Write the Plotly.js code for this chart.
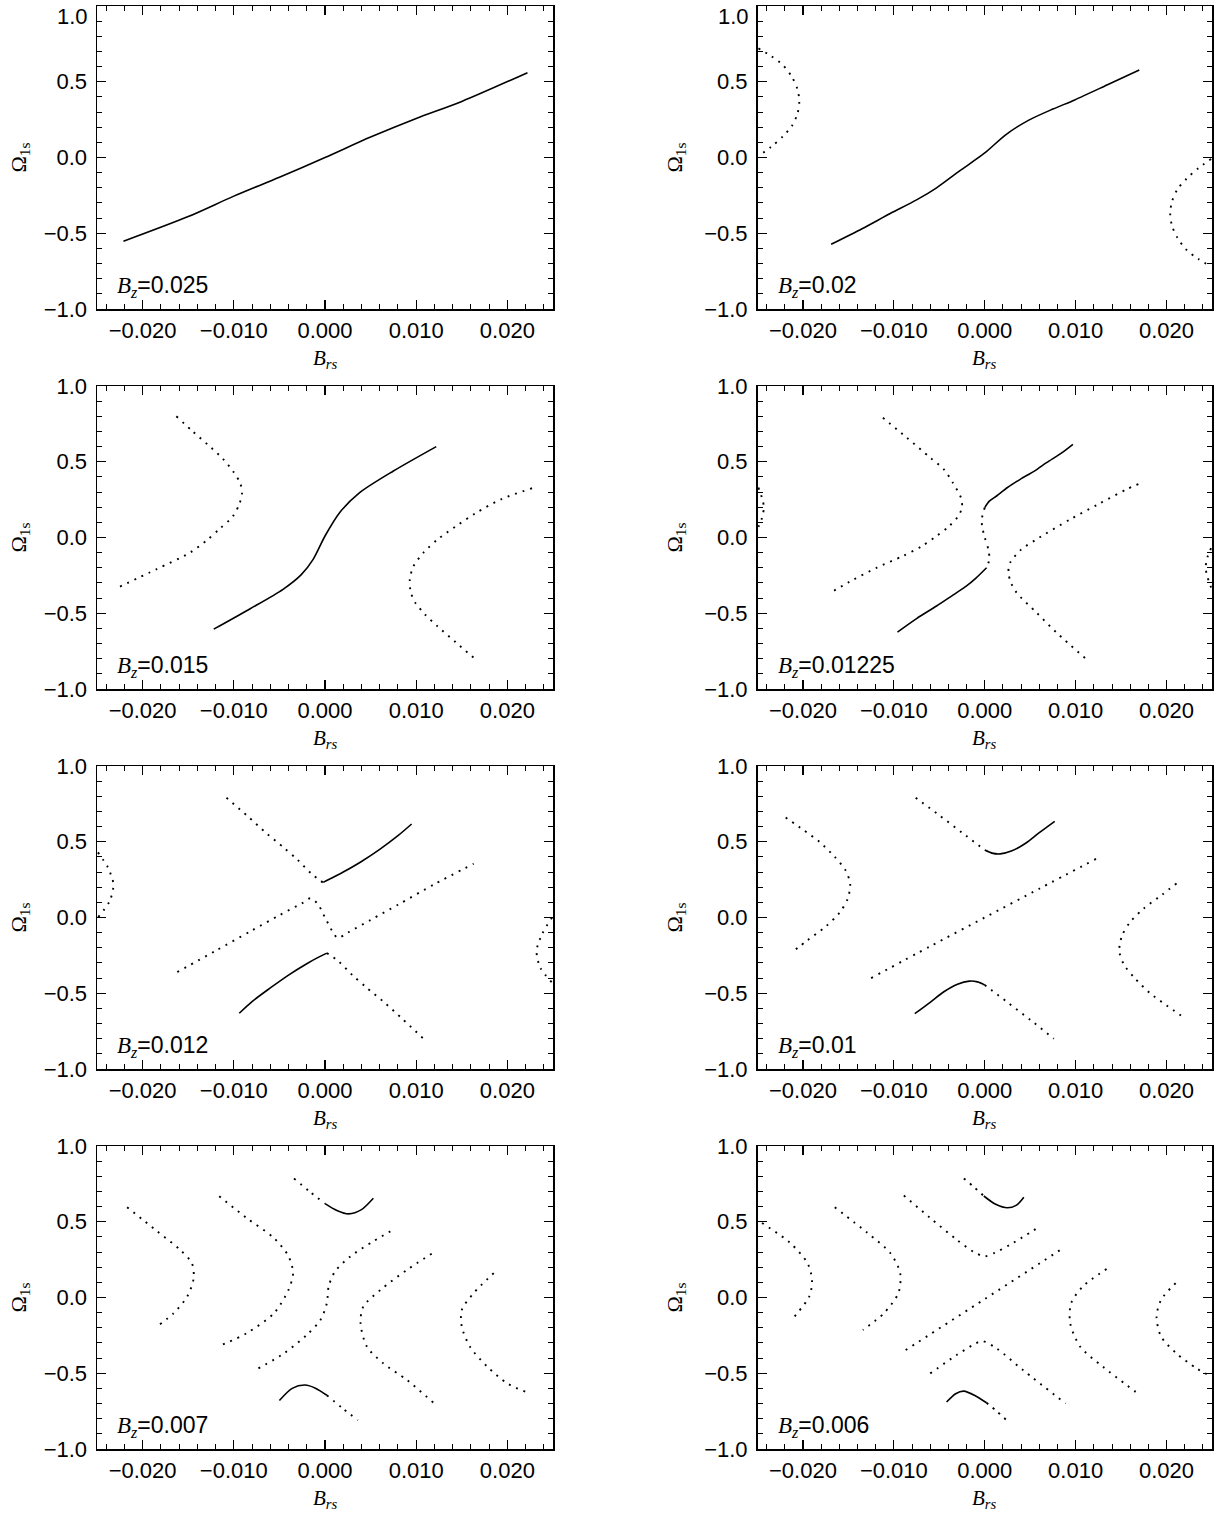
<!DOCTYPE html>
<html><head><meta charset="utf-8">
<script src="https://cdn.plot.ly/plotly-3.0.1.min.js"></script>
<style>html,body{margin:0;padding:0;background:#fff}#chart{width:1225px;height:1513px}</style>
</head><body><div id="chart"></div>
<script>
// ---------- data ----------
const bzLabels = ['0.025', '0.02', '0.015', '0.01225', '0.012', '0.01', '0.007', '0.006'];
const xTickVals = [-0.02, -0.01, 0.0, 0.01, 0.02];
const yTickVals = [-1.0, -0.5, 0.0, 0.5, 1.0];

// Panel 1: Bz = 0.025
const p1_solid_x = [-0.0221, -0.015, -0.010, -0.005, 0.0, 0.005, 0.010, 0.015, 0.0222];
const p1_solid_y = [-0.553, -0.39, -0.255, -0.13, 0.0, 0.135, 0.258, 0.37, 0.56];

// Panel 2: Bz = 0.02
const p2_solid_x = [-0.0169, -0.0135, -0.0104, -0.0075, -0.0053, -0.0028, 0.0, 0.0023, 0.0048, 0.0075, 0.0099, 0.0135, 0.0170];
const p2_solid_y = [-0.573, -0.47, -0.37, -0.28, -0.20, -0.09, 0.03, 0.15, 0.245, 0.32, 0.38, 0.48, 0.578];
const p2_dot1_x = [-0.0249, -0.0235, -0.0222, -0.0212, -0.0206, -0.0204, -0.0206, -0.0212, -0.0222, -0.0235, -0.0249];
const p2_dot1_y = [0.72, 0.67, 0.61, 0.53, 0.45, 0.37, 0.29, 0.21, 0.14, 0.07, 0.01];
const p2_dot2_x = [0.0249, 0.0235, 0.0222, 0.0212, 0.0206, 0.0204, 0.0206, 0.0212, 0.0222, 0.0235, 0.0249];
const p2_dot2_y = [-0.01, -0.07, -0.14, -0.21, -0.29, -0.37, -0.45, -0.53, -0.61, -0.67, -0.72];

// Panel 3: Bz = 0.015
const p3_solid_x = [-0.0122, -0.0082, -0.0046, -0.0026, -0.0013, 0.0, 0.0016, 0.0038, 0.0075, 0.0122];
const p3_solid_y = [-0.605, -0.47, -0.342, -0.245, -0.144, 0.01, 0.164, 0.296, 0.439, 0.600];
const p3_dot1_x = [-0.0163, -0.0145, -0.0128, -0.0112, -0.0100, -0.0093, -0.0091, -0.0094, -0.0101, -0.0115, -0.0130, -0.0148, -0.0185, -0.0227];
const p3_dot1_y = [0.80, 0.70, 0.61, 0.52, 0.43, 0.36, 0.29, 0.22, 0.14, 0.06, -0.02, -0.10, -0.21, -0.33];
const p3_dot2_x = [0.0227, 0.0193, 0.0165, 0.0144, 0.0124, 0.0108, 0.0097, 0.0093, 0.0094, 0.0099, 0.0110, 0.0123, 0.0143, 0.0165];
const p3_dot2_y = [0.325, 0.252, 0.16, 0.076, -0.01, -0.10, -0.19, -0.276, -0.36, -0.43, -0.51, -0.584, -0.69, -0.804];

// Panel 4: Bz = 0.01225
const p4_solid1_x = [0.0, 0.0005, 0.0013, 0.0025, 0.0039, 0.0055, 0.0068, 0.0085, 0.0097];
const p4_solid1_y = [0.197, 0.24, 0.274, 0.33, 0.384, 0.44, 0.494, 0.56, 0.615];
const p4_solid2_x = [-0.0096, -0.0075, -0.0053, -0.0035, -0.0020, -0.0010, 0.0002];
const p4_solid2_y = [-0.624, -0.535, -0.452, -0.38, -0.32, -0.27, -0.20];
const p4_dot1_x = [0.0, -0.0003, -0.0003, 0.0, 0.0004, 0.0005, 0.0002];
const p4_dot1_y = [0.197, 0.13, 0.076, 0.0, -0.08, -0.144, -0.20];
const p4_dot2_x = [-0.0112, -0.0086, -0.0060, -0.0045, -0.0035, -0.0026, -0.0025, -0.0029, -0.0040, -0.0053, -0.0070, -0.0090, -0.0119, -0.0145, -0.0169];
const p4_dot2_y = [0.79, 0.66, 0.527, 0.45, 0.36, 0.26, 0.20, 0.142, 0.07, 0.01, -0.06, -0.122, -0.20, -0.28, -0.362];
const p4_dot3_x = [0.0169, 0.0156, 0.0125, 0.0094, 0.0057, 0.0040, 0.0028, 0.0026, 0.0029, 0.0035, 0.0057, 0.0079, 0.0112];
const p4_dot3_y = [0.353, 0.318, 0.22, 0.12, -0.012, -0.08, -0.166, -0.232, -0.30, -0.364, -0.496, -0.628, -0.804];
const p4_dot4_x = [-0.0249, -0.0245, -0.0243, -0.0245, -0.0249];
const p4_dot4_y = [0.33, 0.26, 0.20, 0.13, 0.07];
const p4_dot5_x = [0.0249, 0.0245, 0.0243, 0.0245, 0.0249];
const p4_dot5_y = [-0.07, -0.13, -0.20, -0.26, -0.33];

// Panel 5: Bz = 0.012
const p5_solid1_x = [-0.0002, 0.0008, 0.002, 0.004, 0.006, 0.008, 0.0095];
const p5_solid1_y = [0.232, 0.262, 0.30, 0.37, 0.45, 0.54, 0.617];
const p5_solid2_x = [-0.0094, -0.008, -0.006, -0.004, -0.002, -0.0008, 0.0002];
const p5_solid2_y = [-0.632, -0.555, -0.465, -0.38, -0.305, -0.265, -0.235];
const p5_dot1_x = [-0.0108, -0.0085, -0.0064, -0.0045, -0.003, -0.0015, -0.0002];
const p5_dot1_y = [0.79, 0.67, 0.555, 0.46, 0.38, 0.29, 0.23];
const p5_dot2_x = [-0.0162, -0.012, -0.008, -0.005, -0.0025, -0.0016, -0.0008, 0.0, 0.0008, 0.0014, 0.0025, 0.005, 0.008, 0.012, 0.0163];
const p5_dot2_y = [-0.36, -0.22, -0.085, 0.015, 0.095, 0.127, 0.09, 0.0, -0.09, -0.135, -0.10, -0.016, 0.084, 0.22, 0.355];
const p5_dot3_x = [0.0002, 0.0015, 0.003, 0.0045, 0.0064, 0.0085, 0.0108];
const p5_dot3_y = [-0.235, -0.29, -0.38, -0.46, -0.555, -0.67, -0.80];
const p5_dot4_x = [-0.0249, -0.0238, -0.0232, -0.0236, -0.0249];
const p5_dot4_y = [0.43, 0.33, 0.22, 0.11, 0.0];
const p5_dot5_x = [0.0249, 0.0238, 0.0232, 0.0236, 0.0249];
const p5_dot5_y = [0.0, -0.11, -0.22, -0.33, -0.43];

// Panel 6: Bz = 0.01
const p6_solid1_x = [0.0, 0.0008, 0.0017, 0.003, 0.0045, 0.006, 0.0077];
const p6_solid1_y = [0.445, 0.425, 0.42, 0.44, 0.49, 0.56, 0.635];
const p6_solid2_x = [-0.0077, -0.006, -0.0045, -0.003, -0.0017, -0.0008, 0.0];
const p6_solid2_y = [-0.635, -0.56, -0.49, -0.44, -0.42, -0.425, -0.445];
const p6_dot1_x = [-0.0076, -0.005, -0.0025, 0.0];
const p6_dot1_y = [0.79, 0.675, 0.56, 0.445];
const p6_dot2_x = [0.0, 0.0025, 0.005, 0.0076];
const p6_dot2_y = [-0.445, -0.56, -0.675, -0.80];
const p6_dot3_x = [-0.0125, -0.006, 0.0, 0.006, 0.0125];
const p6_dot3_y = [-0.40, -0.19, 0.0, 0.19, 0.395];
const p6_dot4_x = [-0.0219, -0.0200, -0.0182, -0.0165, -0.0153, -0.0148, -0.0151, -0.0160, -0.0175, -0.0195, -0.0211];
const p6_dot4_y = [0.66, 0.58, 0.50, 0.40, 0.31, 0.22, 0.12, 0.03, -0.06, -0.15, -0.225];
const p6_dot5_x = [0.0211, 0.0195, 0.0175, 0.0160, 0.0151, 0.0148, 0.0153, 0.0165, 0.0182, 0.0200, 0.0219];
const p6_dot5_y = [0.225, 0.15, 0.06, -0.03, -0.12, -0.22, -0.31, -0.40, -0.50, -0.58, -0.66];

// Panel 7: Bz = 0.007
const p7_solid1_x = [0.0, 0.0013, 0.0026, 0.0040, 0.0053];
const p7_solid1_y = [0.62, 0.575, 0.552, 0.58, 0.655];
const p7_solid2_x = [-0.0050, -0.0036, -0.0022, -0.0010, 0.0002];
const p7_solid2_y = [-0.68, -0.60, -0.578, -0.60, -0.645];
const p7_dot1_x = [-0.0034, -0.0017, 0.0];
const p7_dot1_y = [0.786, 0.70, 0.62];
const p7_dot2_x = [0.0002, 0.0019, 0.0036];
const p7_dot2_y = [-0.645, -0.73, -0.81];
const p7_dot3_x = [-0.0217, -0.0184, -0.0159, -0.0146, -0.0144, -0.0151, -0.0166, -0.0182];
const p7_dot3_y = [0.596, 0.437, 0.316, 0.227, 0.128, 0.007, -0.104, -0.181];
const p7_dot4_x = [-0.0116, -0.0086, -0.0056, -0.0040, -0.0035, -0.0040, -0.0056, -0.0086, -0.0113];
const p7_dot4_y = [0.669, 0.525, 0.393, 0.272, 0.161, 0.051, -0.104, -0.236, -0.313];
const p7_dot5_x = [-0.0073, -0.0045, -0.0020, -0.0005, 0.0002, 0.0004, 0.0011, 0.0028, 0.0053, 0.0075];
const p7_dot5_y = [-0.468, -0.369, -0.247, -0.148, -0.038, 0.073, 0.172, 0.272, 0.371, 0.448];
const p7_dot6_x = [0.0117, 0.0090, 0.0061, 0.0042, 0.0039, 0.0046, 0.0064, 0.0090, 0.0119];
const p7_dot6_y = [0.289, 0.183, 0.051, -0.06, -0.17, -0.325, -0.435, -0.545, -0.695];
const p7_dot7_x = [0.0185, 0.0163, 0.0150, 0.0150, 0.0159, 0.0178, 0.0200, 0.0220];
const p7_dot7_y = [0.161, 0.029, -0.082, -0.192, -0.325, -0.457, -0.567, -0.623];

// Panel 8: Bz = 0.006
const p8_solid1_x = [-0.0001, 0.0012, 0.0025, 0.0035, 0.0043];
const p8_solid1_y = [0.67, 0.615, 0.592, 0.61, 0.662];
const p8_solid2_x = [-0.0042, -0.0032, -0.0023, -0.0010, 0.0002];
const p8_solid2_y = [-0.69, -0.635, -0.618, -0.65, -0.695];
const p8_dot1_x = [-0.0023, -0.0012, -0.0001];
const p8_dot1_y = [0.786, 0.73, 0.67];
const p8_dot2_x = [0.0002, 0.0013, 0.0024];
const p8_dot2_y = [-0.695, -0.75, -0.81];
const p8_dot3_x = [-0.0245, -0.0214, -0.0195, -0.0190, -0.0193, -0.0210];
const p8_dot3_y = [0.492, 0.36, 0.227, 0.117, 0.007, -0.13];
const p8_dot4_x = [-0.0165, -0.0129, -0.0104, -0.0093, -0.0095, -0.0111, -0.0134];
const p8_dot4_y = [0.596, 0.426, 0.294, 0.161, 0.029, -0.104, -0.214];
const p8_dot5_x = [-0.0089, -0.0060, -0.0031, -0.0012, 0.0, 0.0011, 0.0028, 0.0061];
const p8_dot5_y = [0.673, 0.525, 0.382, 0.30, 0.272, 0.295, 0.349, 0.47];
const p8_dot6_x = [-0.0087, 0.0, 0.0088];
const p8_dot6_y = [-0.347, -0.01, 0.333];
const p8_dot7_x = [-0.0060, -0.0031, -0.0012, -0.0003, 0.0013, 0.0042, 0.0089];
const p8_dot7_y = [-0.501, -0.38, -0.31, -0.287, -0.336, -0.479, -0.70];
const p8_dot8_x = [0.0134, 0.0108, 0.0095, 0.0094, 0.0105, 0.0130, 0.0166];
const p8_dot8_y = [0.188, 0.073, -0.038, -0.17, -0.325, -0.457, -0.623];
const p8_dot9_x = [0.0210, 0.0194, 0.0189, 0.0194, 0.0211, 0.0233, 0.0250];
const p8_dot9_y = [0.095, -0.015, -0.126, -0.258, -0.369, -0.468, -0.523];

// ---------- figure assembly ----------
const panels = [
  {solid: [[p1_solid_x, p1_solid_y]], dotted: []},
  {solid: [[p2_solid_x, p2_solid_y]], dotted: [[p2_dot1_x, p2_dot1_y], [p2_dot2_x, p2_dot2_y]]},
  {solid: [[p3_solid_x, p3_solid_y]], dotted: [[p3_dot1_x, p3_dot1_y], [p3_dot2_x, p3_dot2_y]]},
  {solid: [[p4_solid1_x, p4_solid1_y], [p4_solid2_x, p4_solid2_y]],
   dotted: [[p4_dot1_x, p4_dot1_y], [p4_dot2_x, p4_dot2_y], [p4_dot3_x, p4_dot3_y], [p4_dot4_x, p4_dot4_y], [p4_dot5_x, p4_dot5_y]]},
  {solid: [[p5_solid1_x, p5_solid1_y], [p5_solid2_x, p5_solid2_y]],
   dotted: [[p5_dot1_x, p5_dot1_y], [p5_dot2_x, p5_dot2_y], [p5_dot3_x, p5_dot3_y], [p5_dot4_x, p5_dot4_y], [p5_dot5_x, p5_dot5_y]]},
  {solid: [[p6_solid1_x, p6_solid1_y], [p6_solid2_x, p6_solid2_y]],
   dotted: [[p6_dot1_x, p6_dot1_y], [p6_dot2_x, p6_dot2_y], [p6_dot3_x, p6_dot3_y], [p6_dot4_x, p6_dot4_y], [p6_dot5_x, p6_dot5_y]]},
  {solid: [[p7_solid1_x, p7_solid1_y], [p7_solid2_x, p7_solid2_y]],
   dotted: [[p7_dot1_x, p7_dot1_y], [p7_dot2_x, p7_dot2_y], [p7_dot3_x, p7_dot3_y], [p7_dot4_x, p7_dot4_y], [p7_dot5_x, p7_dot5_y], [p7_dot6_x, p7_dot6_y], [p7_dot7_x, p7_dot7_y]]},
  {solid: [[p8_solid1_x, p8_solid1_y], [p8_solid2_x, p8_solid2_y]],
   dotted: [[p8_dot1_x, p8_dot1_y], [p8_dot2_x, p8_dot2_y], [p8_dot3_x, p8_dot3_y], [p8_dot4_x, p8_dot4_y], [p8_dot5_x, p8_dot5_y], [p8_dot6_x, p8_dot6_y], [p8_dot7_x, p8_dot7_y], [p8_dot8_x, p8_dot8_y], [p8_dot9_x, p8_dot9_y]]}
];

const W = 1225, H = 1513;
const colPx = [[97, 553], [757.5, 1212]];
const rowPx = [[6, 309], [386, 689], [766, 1069], [1146, 1449]];
const yTitleX = [19, 675];
const sans = 'Liberation Sans, Arial, Helvetica, sans-serif';
const serif = 'Liberation Serif, Times New Roman, serif';
const tickFont = {family: sans, size: 22, color: '#000'};

const traces = [];
const layout = {
  width: W, height: H,
  margin: {l: 0, r: 0, t: 0, b: 0},
  paper_bgcolor: '#ffffff', plot_bgcolor: '#ffffff',
  showlegend: false,
  font: {family: sans, size: 22, color: '#000'},
  annotations: []
};

panels.forEach((p, i) => {
  const n = i + 1;
  const col = i % 2, row = Math.floor(i / 2);
  const xa = 'x' + n, ya = 'y' + n;
  p.solid.forEach(([xs, ys]) => traces.push({
    x: xs, y: ys, xaxis: xa, yaxis: ya, type: 'scatter', mode: 'lines',
    line: {color: '#000', width: 1.6, shape: 'spline', smoothing: 0.8}, hoverinfo: 'skip'
  }));
  p.dotted.forEach(([xs, ys]) => traces.push({
    x: xs, y: ys, xaxis: xa, yaxis: ya, type: 'scatter', mode: 'lines',
    line: {color: '#000', width: 1.9, dash: '1.9px,6px', shape: 'spline', smoothing: 0.8}, hoverinfo: 'skip'
  }));

  const [cl, cr] = colPx[col], [rt, rb] = rowPx[row];
  const boxW = cr - cl, boxH = rb - rt;
  const axCommon = {
    showline: true, linecolor: '#000', linewidth: 1.5, mirror: 'ticks',
    ticks: 'inside', ticklen: 9, tickwidth: 1.2, tickcolor: '#000',
    showgrid: false, zeroline: false, fixedrange: true, tickfont: tickFont
  };
  // the top row's "1.0" label would sit past the page edge, so it is drawn as an annotation below
  const yVals = row === 0 ? yTickVals.filter(v => v < 1) : yTickVals;
  layout['xaxis' + n] = Object.assign({}, axCommon, {
    domain: [cl / W, cr / W], anchor: ya, range: [-0.025, 0.025],
    tickmode: 'array', tickvals: xTickVals, tickformat: '.3f',
    ticklabelstandoff: 1,
    minor: {dtick: 0.002, tick0: 0, ticks: 'inside', ticklen: 5, tickwidth: 1, tickcolor: '#000'}
  });
  layout['yaxis' + n] = Object.assign({}, axCommon, {
    domain: [1 - rb / H, 1 - rt / H], anchor: xa, range: [-1, 1],
    tickmode: 'array', tickvals: yVals, tickformat: '.1f',
    ticklabelstandoff: 4,
    minor: {dtick: 0.1, tick0: 0, ticks: 'inside', ticklen: 5, tickwidth: 1, tickcolor: '#000'}
  });

  if (row === 0) {
    layout.annotations.push({
      xref: xa + ' domain', yref: ya + ' domain', x: -7 / boxW, y: 1 + 4 / boxH,
      xanchor: 'right', yanchor: 'top', showarrow: false,
      text: (1).toFixed(1), font: tickFont
    });
  }
  // B_z label
  layout.annotations.push({
    xref: xa + ' domain', yref: ya + ' domain', x: 18 / boxW, y: 6 / boxH,
    xanchor: 'left', yanchor: 'bottom', showarrow: false,
    text: '<span style="font-family:' + serif + '"><i>B</i><sub><i>z</i></sub></span>=' + bzLabels[i],
    font: {family: sans, size: 23, color: '#000'}
  });
  // x-axis title
  layout.annotations.push({
    xref: xa + ' domain', yref: ya + ' domain', x: 0.5, y: -50 / boxH,
    xanchor: 'center', yanchor: 'middle', showarrow: false,
    text: '<i>B</i><sub><i>rs</i></sub>',
    font: {family: serif, size: 21, color: '#000'}
  });
  // y-axis title
  layout.annotations.push({
    xref: xa + ' domain', yref: ya + ' domain', x: -(cl - yTitleX[col]) / boxW, y: 0.5,
    xanchor: 'center', yanchor: 'middle', showarrow: false, textangle: -90,
    text: 'Ω<sub>1s</sub>',
    font: {family: serif, size: 22, color: '#000'}
  });
});

Plotly.newPlot('chart', traces, layout, {staticPlot: true, displayModeBar: false});
</script>
</body></html>
